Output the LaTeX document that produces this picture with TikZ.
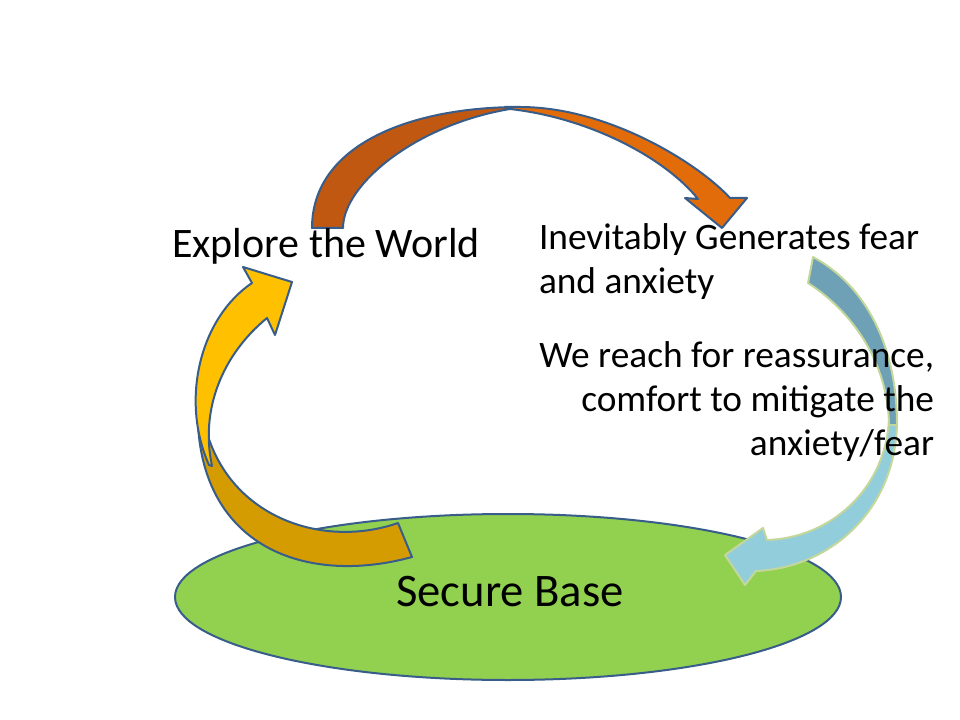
\documentclass[tikz,border=0pt]{standalone}
\usepackage{fontspec}
\setmainfont{Carlito}
\usetikzlibrary{shapes,arrows,positioning}

\definecolor{basegreen}{RGB}{146,208,80}
\definecolor{lineblue}{RGB}{56,93,138}
\definecolor{rustback}{RGB}{192,88,18}
\definecolor{rustfront}{RGB}{227,108,10}
\definecolor{goldback}{RGB}{212,156,0}
\definecolor{goldfront}{RGB}{255,192,0}
\definecolor{tealback}{RGB}{110,160,182}
\definecolor{tealfront}{RGB}{146,205,220}
\definecolor{tealline}{RGB}{196,215,155}

\begin{document}
\begin{tikzpicture}[x=0.75pt, y=-0.75pt, line width=1.5pt, line join=round,
sidetext/.style={inner sep=0pt, font=\fontsize{28}{34}\selectfont},
headtext/.style={inner sep=0pt, font=\fontsize{31.5}{38}\selectfont},
basetext/.style={inner sep=0pt, font=\fontsize{35}{42}\selectfont},
blueline/.style={draw=lineblue},
greenline/.style={draw=tealline}]

\useasboundingbox (0,0) rectangle (960,720);

\node [ellipse, draw=lineblue, fill=basegreen, minimum width=499.5pt,
minimum height=124.5pt, inner sep=0pt] (base) at (508,597) {};

% explore -> fear
\filldraw [blueline, fill=rustback]
  (312,228) .. controls (312,145) and (410,107) .. (520,107)
  -- (510,109) .. controls (415,125) and (343,185) .. (343,228)
  -- cycle;
\filldraw [blueline, fill=rustfront]
  (505,107) -- (520,107) .. controls (610,107) and (700,165) .. (730,198)
  -- (747,198) -- (722,228) -- (685,198) -- (698,199)
  .. controls (665,158) and (590,118) .. (510,109)
  -- cycle;

% fear -> base
\filldraw [greenline, fill=tealfront]
  (897,420) .. controls (897,510) and (830,568) .. (756,571)
  -- (745,585) -- (725,555) -- (763,528) -- (767,540)
  .. controls (830,538) and (885,490) .. (889,420)
  -- cycle;
\filldraw [greenline, fill=tealback]
  (813,257) .. controls (865,285) and (897,345) .. (897,425)
  -- (889,425) .. controls (888,360) and (850,310) .. (808,283)
  -- cycle;

% base -> explore
\filldraw [blueline, fill=goldback]
  (198,425) .. controls (205,550) and (310,585) .. (412,557)
  -- (398,523) .. controls (320,550) and (226,515) .. (205,425)
  -- cycle;
\filldraw [blueline, fill=goldfront]
  (252,283) -- (243,267) -- (292,282) -- (275,335) -- (267,318)
  .. controls (222,355) and (200,410) .. (212,466)
  -- (209,465) .. controls (180,400) and (200,318) .. (252,283)
  -- cycle;

\node [headtext, anchor=base] (explore) at (326,258) {Explore the World};
\node [sidetext, anchor=base west] (fear1) at (538,250) {Inevitably Generates fear};
\node [sidetext, anchor=base west] (fear2) at (538,293) {and anxiety};
\node [sidetext, anchor=base east] (calm1) at (935,367) {We reach for reassurance,};
\node [sidetext, anchor=base east] (calm2) at (935,411) {comfort to mitigate the};
\node [sidetext, anchor=base east] (calm3) at (935,455) {anxiety/fear};
\node [basetext, anchor=base] (secure) at (510,606) {Secure Base};

\end{tikzpicture}
\end{document}
